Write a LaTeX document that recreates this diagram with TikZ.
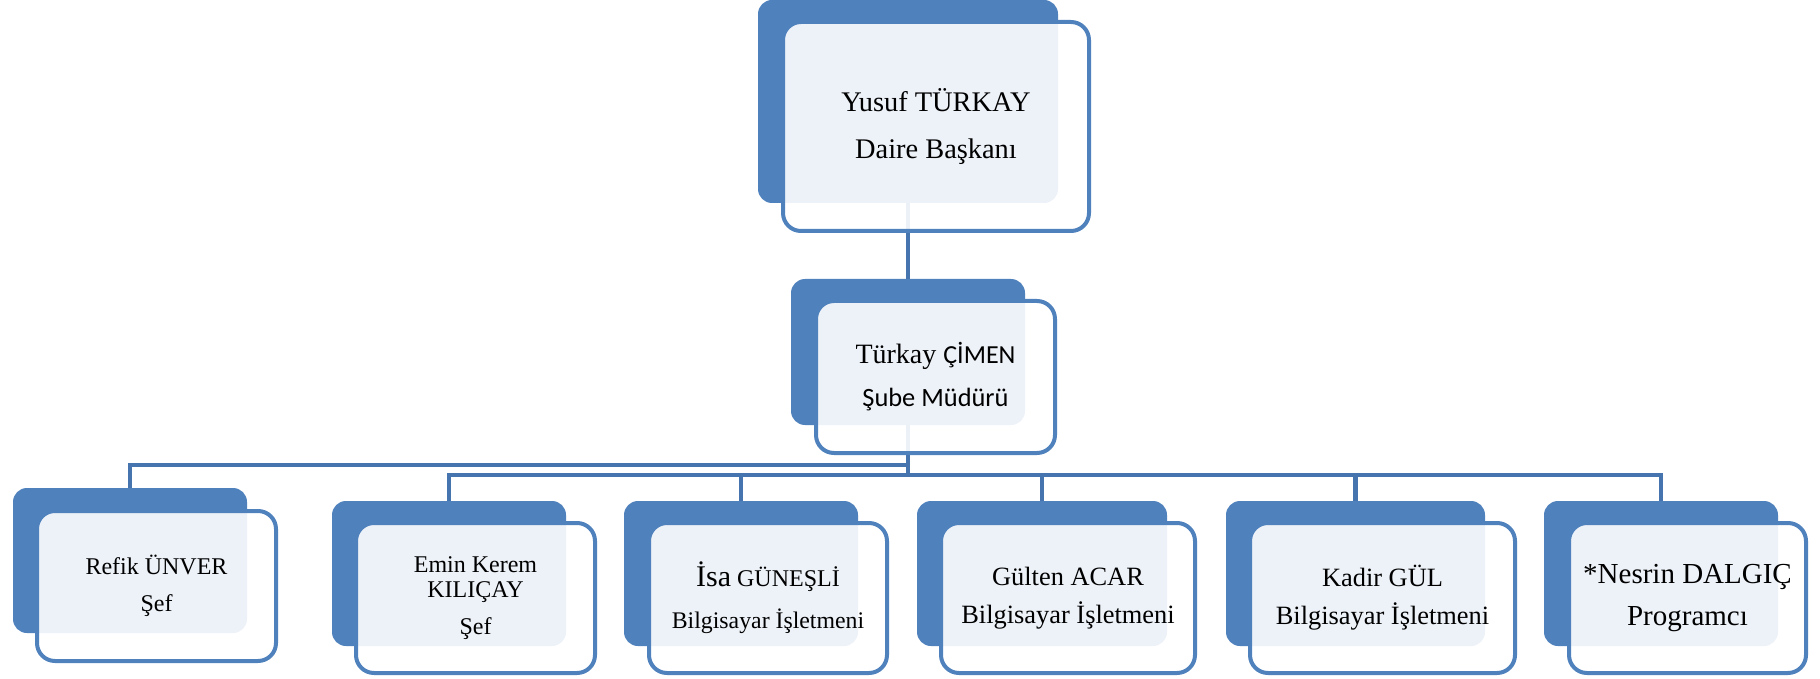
\documentclass[tikz,border=0pt]{standalone}
\usepackage{fontspec}
\setmainfont{Liberation Serif}
\newfontfamily\calibri{Carlito}
\definecolor{boxblue}{HTML}{4F81BD}
\definecolor{linkblue}{HTML}{4674AE}
\begin{document}
\begin{tikzpicture}[x=0.5pt,y=-0.5pt,
  backbox/.style={fill=boxblue, rounded corners=7pt, inner sep=0pt, outer sep=0pt},
  frontbox/.style={draw=boxblue, line width=2pt, fill=white, fill opacity=0.9, text opacity=1, rounded corners=9pt, inner sep=0pt, outer sep=0pt, align=center, text=black},
  conn/.style={draw=linkblue, line width=2.25pt}]
\useasboundingbox (0,0) rectangle (1820,679);
% back boxes
\node[backbox, minimum width=150pt, minimum height=101.5pt] (b0) at (908,101.5) {};
\node[backbox, minimum width=117pt, minimum height=73pt] (b1) at (908,352) {};
\node[backbox, minimum width=117pt, minimum height=72.5pt] (b2) at (130,560.5) {};
\node[backbox, minimum width=117pt, minimum height=72.5pt] (b3) at (449,573.5) {};
\node[backbox, minimum width=117pt, minimum height=72.5pt] (b4) at (741,573.5) {};
\node[backbox, minimum width=125pt, minimum height=72.5pt] (b5) at (1042,573.5) {};
\node[backbox, minimum width=129.5pt, minimum height=72.5pt] (b6) at (1355.5,573.5) {};
\node[backbox, minimum width=117pt, minimum height=72.5pt] (b7) at (1661,573.5) {};
% connectors
\coordinate (busL) at (908,465);
\coordinate (busR) at (908,475);
\draw[conn] (b0.south) -- (b1.north);
\draw[conn] (b1.south) -- (busR);
\draw[conn] (busL) -| (b2.north);
\draw[conn] (b3.north) |- (b7.north |- busR) -- (b7.north);
\foreach \n in {b4,b5,b6} \draw[conn] (\n.north |- busR) -- (\n.north);
% front boxes
\node[frontbox, minimum width=153pt, minimum height=104.5pt, font=\fontsize{14.2pt}{23.5pt}\selectfont] (f0) at (936,126.5) {Yusuf TÜRKAY\\Daire Başkanı};
\node[frontbox, minimum width=119.5pt, minimum height=76pt, font=\fontsize{14pt}{21.5pt}\selectfont] (f1) at (935.5,377) {Türkay {\calibri\fontsize{13pt}{21.5pt}\selectfont ÇİMEN}\\{\calibri\fontsize{13.2pt}{21.5pt}\selectfont Şube Müdürü}};
\node[frontbox, minimum width=119.5pt, minimum height=75pt, font=\fontsize{12pt}{18.5pt}\selectfont] (f2) at (156.5,586) {Refik ÜNVER\\Şef};
\node[frontbox, minimum width=119.5pt, minimum height=75pt, font=\fontsize{12pt}{12.5pt}\selectfont] (f3) at (475.5,598) {Emin Kerem\\KILIÇAY\\[6pt]Şef};
\node[frontbox, minimum width=119pt, minimum height=75pt, font=\fontsize{12pt}{21pt}\selectfont] (f4) at (768,598) {{\fontsize{15pt}{21pt}\selectfont İsa} GÜNEŞLİ\\{\fontsize{11.9pt}{21pt}\selectfont Bilgisayar İşletmeni}};
\node[frontbox, minimum width=127pt, minimum height=75pt, font=\fontsize{13.2pt}{19pt}\selectfont] (f5) at (1068,598) {Gülten ACAR\\Bilgisayar İşletmeni};
\node[frontbox, minimum width=132.5pt, minimum height=75pt, font=\fontsize{13.2pt}{19pt}\selectfont] (f6) at (1382.5,598) {Kadir GÜL\\Bilgisayar İşletmeni};
\node[frontbox, minimum width=118.5pt, minimum height=75pt, font=\fontsize{14.5pt}{21pt}\selectfont] (f7) at (1687.5,598) {*Nesrin DALGIÇ\\Programcı};
\end{tikzpicture}
\end{document}
